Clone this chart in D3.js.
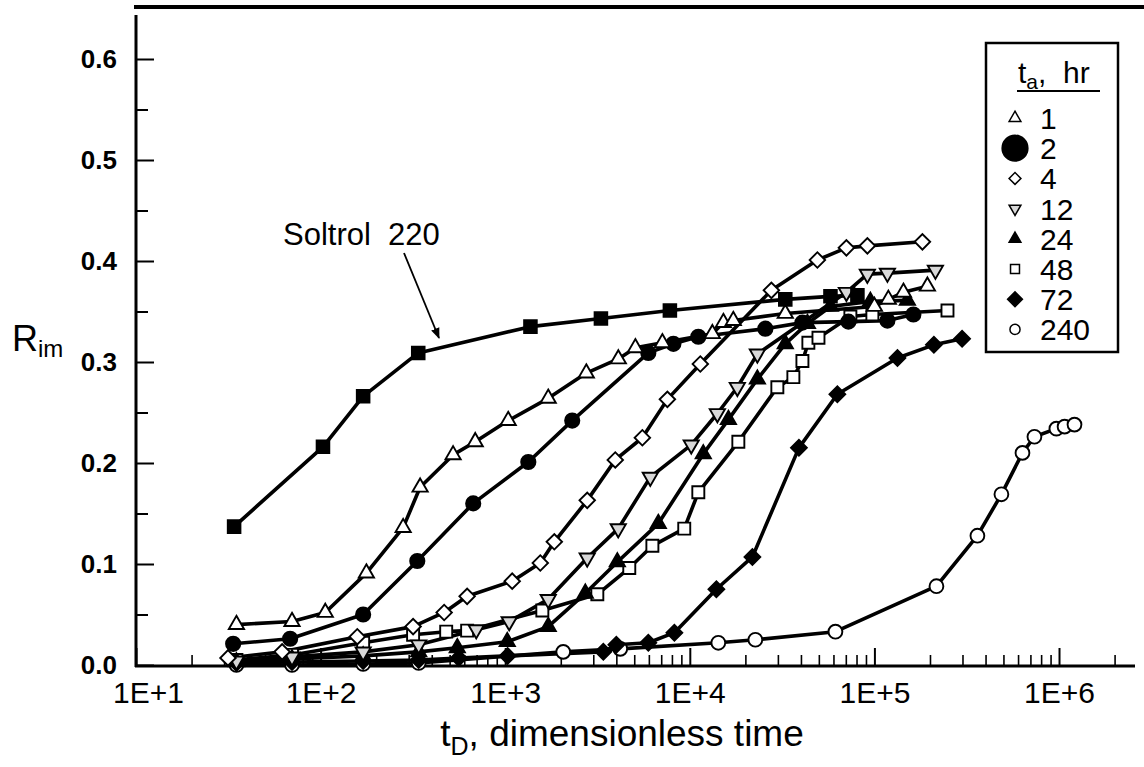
<!DOCTYPE html>
<html>
<head>
<meta charset="utf-8">
<script src="https://cdn.jsdelivr.net/npm/d3@7"></script>
<style>
  html, body { margin: 0; padding: 0; background: #fff; }
  svg { display: block; }
  text { font-family: "Liberation Sans", Arial, Helvetica, sans-serif; fill: #000; }
</style>
</head>
<body>
<svg id="chart" width="1144" height="767"></svg>
<script>
// Imbibition recovery R_im versus dimensionless time t_D, by ageing time t_a (hr)
const seriesNames = ["Soltrol 220", "1", "2", "4", "12", "24", "48", "72", "240"];

const soltrol = [[34,0.137],[103,0.216],[170,0.266],[338,0.309],[1370,0.335],[3300,0.343],[7800,0.351],[32900,0.362],[57800,0.365],[80900,0.366]];
const ta1 = [[35,0.040],[70,0.043],[106,0.052],[177,0.091],[280,0.136],[346,0.176],[522,0.208],[688,0.221],[1038,0.242],[1710,0.264],[2750,0.289],[4100,0.303],[5070,0.314],[7100,0.319],[13250,0.328],[15200,0.339],[17200,0.341],[32900,0.348],[100000,0.355],[119000,0.362],[143600,0.369],[193700,0.375]];
const ta2 = [[33.6,0.021],[68.4,0.026],[170,0.050],[334,0.103],[671,0.160],[1334,0.201],[2307,0.242],[5960,0.309],[8150,0.318],[11120,0.325],[25660,0.333],[40740,0.339],[72300,0.340],[117600,0.341],[162600,0.347]];
const ta4 = [[31.5,0.007],[61.9,0.013],[158,0.028],[317,0.038],[467,0.052],[622,0.068],[1091,0.083],[1549,0.101],[1845,0.122],[2782,0.163],[3946,0.203],[5533,0.225],[7560,0.263],[11400,0.298],[27660,0.371],[49100,0.401],[70500,0.413],[91600,0.415],[182000,0.419]];
const ta12 = [[35,0.004],[70,0.008],[170,0.013],[340,0.020],[697,0.035],[1051,0.043],[1710,0.065],[2782,0.106],[4096,0.135],[6110,0.186],[10180,0.218],[14100,0.249],[18090,0.275],[23230,0.308],[70500,0.369],[91600,0.387],[117600,0.388],[214000,0.391]];
const ta24 = [[35,0.003],[70,0.006],[170,0.009],[340,0.013],[550,0.017],[1026,0.023],[1710,0.038],[2716,0.071],[4050,0.102],[6750,0.140],[11830,0.209],[16180,0.243],[23230,0.283],[32900,0.318],[43350,0.338],[57800,0.355],[95100,0.360],[150900,0.361]];
const ta48 = [[35,0.005],[70,0.010],[170,0.022],[317,0.030],[479,0.033],[622,0.034],[1589,0.054],[3155,0.070],[4700,0.096],[6270,0.118],[9330,0.135],[11120,0.171],[18320,0.221],[29800,0.275],[36390,0.285],[40740,0.301],[43880,0.319],[49770,0.324],[74100,0.345],[97500,0.347],[248800,0.351]];
const ta72 = [[35,0.002],[70,0.003],[170,0.004],[340,0.005],[560,0.007],[1030,0.009],[3400,0.013],[4000,0.020],[5960,0.022],[8250,0.032],[13930,0.075],[21830,0.107],[39000,0.215],[63000,0.268],[133300,0.304],[210000,0.317],[298500,0.323]];
const ta240 = [[35,0.000],[70,0.000],[170,0.001],[340,0.002],[2062,0.013],[4200,0.016],[14270,0.022],[22650,0.025],[61500,0.033],[216800,0.078],[361400,0.128],[487500,0.169],[634000,0.210],[736000,0.226],[968000,0.234],[1072000,0.236],[1213000,0.238]];

const xMajorTicks = [1e1, 1e2, 1e3, 1e4, 1e5, 1e6];
const xTickLabels = ["1E+1", "1E+2", "1E+3", "1E+4", "1E+5", "1E+6"];
const yMajorTicks = [0.0, 0.1, 0.2, 0.3, 0.4, 0.5, 0.6];
const yTickLabels = ["0.0", "0.1", "0.2", "0.3", "0.4", "0.5", "0.6"];
const yMinorTicks = [0.05, 0.15, 0.25, 0.35, 0.45, 0.55];
const legendTitle = ["t", "a", ",  hr"];
const legendLabels = ["1", "2", "4", "12", "24", "48", "72", "240"];

const svg = d3.select("#chart");

const x = d3.scaleLog().domain([10, 2.58e6]).range([136, 1135]);
const y = d3.scaleLinear().domain([0, 0.6]).range([665, 59]);

// minor x ticks: 2..9 within each decade
const xMinorTicks = [];
for (let d = 1; d <= 6; d++) {
  for (let m = 2; m <= 9; m++) {
    const v = m * Math.pow(10, d);
    if (v <= 2.58e6) xMinorTicks.push(v);
  }
}

// frame: heavy rule along the top, left and bottom axis lines
svg.append("line").attr("x1", 134).attr("x2", 1144).attr("y1", 7).attr("y2", 7)
  .attr("stroke", "#000").attr("stroke-width", 4);

const axisG = svg.append("g");

axisG.append("g").attr("transform", "translate(0,665)")
  .call(d3.axisBottom(x).tickValues(xMinorTicks).tickSize(-10).tickFormat(""))
  .call(g => g.select(".domain").remove())
  .selectAll("line").attr("stroke-width", 1.6);

const xAxis = axisG.append("g").attr("transform", "translate(0,665)")
  .call(d3.axisBottom(x).tickValues(xMajorTicks).tickSize(-17).tickPadding(17)
    .tickFormat((d, i) => xTickLabels[i]));
xAxis.select(".domain").remove();
xAxis.selectAll("line").attr("stroke-width", 2);
xAxis.selectAll("text").attr("font-size", 30).attr("font-family", "Liberation Sans, Arial, sans-serif")
  .attr("dx", (d, i) => i === 0 ? 12 : 0);

axisG.append("g").attr("transform", "translate(136,0)")
  .call(d3.axisLeft(y).tickValues(yMinorTicks).tickSize(-12).tickFormat(""))
  .call(g => g.select(".domain").remove())
  .selectAll("line").attr("stroke-width", 2);

const yAxis = axisG.append("g").attr("transform", "translate(136,0)")
  .call(d3.axisLeft(y).tickValues(yMajorTicks).tickSize(-18).tickPadding(19)
    .tickFormat((d, i) => yTickLabels[i]));
yAxis.select(".domain").remove();
yAxis.selectAll("line").attr("stroke-width", 2);
yAxis.selectAll("text").attr("font-size", 26).attr("font-weight", "bold")
  .attr("font-family", "Liberation Sans, Arial, sans-serif");

svg.append("line").attr("x1", 136).attr("x2", 136).attr("y1", 15).attr("y2", 667)
  .attr("stroke", "#000").attr("stroke-width", 3);
svg.append("line").attr("x1", 135).attr("x2", 1135).attr("y1", 666).attr("y2", 666)
  .attr("stroke", "#000").attr("stroke-width", 3);

// axis titles
const xTitle = svg.append("text").attr("x", 622).attr("y", 746)
  .attr("text-anchor", "middle").attr("font-size", 37);
xTitle.append("tspan").text("t");
xTitle.append("tspan").attr("font-size", 25).attr("dy", 9).text("D");
xTitle.append("tspan").attr("dy", -9).text(", dimensionless time");

const yTitle = svg.append("text").attr("x", 12).attr("y", 351).attr("font-size", 36);
yTitle.append("tspan").text("R");
yTitle.append("tspan").attr("font-size", 24).attr("dy", 6).text("im");

// marker definitions
const sym = {
  sqFilled:  { type: d3.symbolSquare,   size: 160, fill: "#000", rot: 0 },
  triOpen:   { type: d3.symbolTriangle, size: 100, fill: "#fff", rot: 0 },
  cirFilled: { type: d3.symbolCircle,   size: 160, fill: "#000", rot: 0 },
  diaOpen:   { type: d3.symbolSquare,   size: 120, fill: "#fff", rot: 45 },
  triDown:   { type: d3.symbolTriangle, size: 100, fill: "#d8d8d8", rot: 180 },
  triFilled: { type: d3.symbolTriangle, size: 100, fill: "#000", rot: 0 },
  sqOpen:    { type: d3.symbolSquare,   size: 144, fill: "#fff", rot: 0 },
  diaFilled: { type: d3.symbolSquare,   size: 125, fill: "#000", rot: 45 },
  cirOpen:   { type: d3.symbolCircle,   size: 150, fill: "#fff", rot: 0 }
};

const series = [
  { data: ta240, m: sym.cirOpen },
  { data: ta72, m: sym.diaFilled },
  { data: ta48, m: sym.sqOpen },
  { data: ta24, m: sym.triFilled },
  { data: ta12, m: sym.triDown },
  { data: ta4, m: sym.diaOpen },
  { data: ta2, m: sym.cirFilled },
  { data: ta1, m: sym.triOpen },
  { data: soltrol, m: sym.sqFilled }
];

const line = d3.line().x(d => x(d[0])).y(d => y(d[1]));
const plot = svg.append("g");

series.forEach(s => {
  plot.append("path").datum(s.data).attr("d", line)
    .attr("fill", "none").attr("stroke", "#000").attr("stroke-width", 3.6)
    .attr("stroke-linejoin", "round");
});
series.forEach(s => {
  plot.append("g").selectAll("path").data(s.data).join("path")
    .attr("transform", d => `translate(${x(d[0])},${y(d[1])}) rotate(${s.m.rot})`)
    .attr("d", d3.symbol().type(s.m.type).size(s.m.size))
    .attr("fill", s.m.fill).attr("stroke", "#000").attr("stroke-width", 1.9);
});

// annotation for the Soltrol 220 reference curve
svg.append("text").attr("x", 283).attr("y", 245).attr("font-size", 31)
  .attr("xml:space", "preserve").text("Soltrol  220");
svg.append("defs").append("marker").attr("id", "arrowhead")
  .attr("viewBox", "0 0 10 10").attr("refX", 9).attr("refY", 5)
  .attr("markerWidth", 11).attr("markerHeight", 11).attr("markerUnits", "userSpaceOnUse")
  .attr("orient", "auto")
  .append("path").attr("d", "M0,1 L10,5 L0,9 Z").attr("fill", "#000");
svg.append("line").attr("x1", 404).attr("y1", 253).attr("x2", 439).attr("y2", 338)
  .attr("stroke", "#000").attr("stroke-width", 1.8).attr("marker-end", "url(#arrowhead)");

// legend
const lg = svg.append("g");
lg.append("rect").attr("x", 986).attr("y", 43).attr("width", 132).attr("height", 309)
  .attr("fill", "#fff").attr("stroke", "#000").attr("stroke-width", 2.5);
const lt = lg.append("text").attr("x", 1018).attr("y", 83).attr("font-size", 30);
lt.append("tspan").text(legendTitle[0]);
lt.append("tspan").attr("font-size", 21).attr("dy", 6).text(legendTitle[1]);
lt.append("tspan").attr("dy", -6).attr("xml:space", "preserve").text(legendTitle[2]);
lg.append("line").attr("x1", 1017).attr("x2", 1100).attr("y1", 91).attr("y2", 91)
  .attr("stroke", "#000").attr("stroke-width", 2);

const legendSyms = [
  { m: sym.triOpen, size: 60 },
  { m: sym.cirFilled, size: 520 },
  { m: sym.diaOpen, size: 70 },
  { m: sym.triDown, size: 60 },
  { m: sym.triFilled, size: 60 },
  { m: sym.sqOpen, size: 80 },
  { m: sym.diaFilled, size: 110 },
  { m: sym.cirOpen, size: 80 }
];
legendLabels.forEach((lab, i) => {
  const cy = 118 + i * 30.2;
  const ls = legendSyms[i];
  lg.append("path")
    .attr("transform", `translate(1015,${cy}) rotate(${ls.m.rot})`)
    .attr("d", d3.symbol().type(ls.m.type).size(ls.size))
    .attr("fill", ls.m.fill).attr("stroke", "#000").attr("stroke-width", 1.5);
  lg.append("text").attr("x", 1040).attr("y", cy + 11).attr("font-size", 30).text(lab);
});
</script>
</body>
</html>
